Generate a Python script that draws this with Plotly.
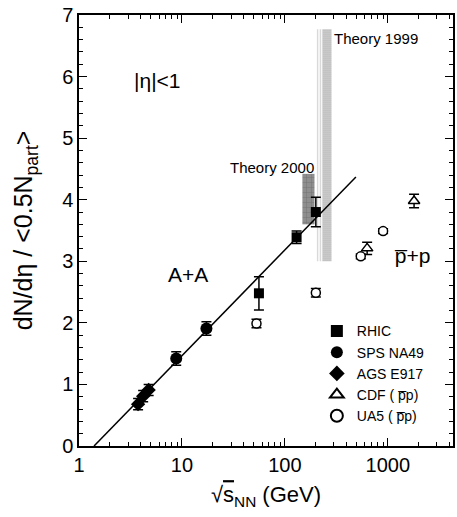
import math
import plotly.graph_objects as go

# ---- data ----
rhic_x = [56, 130, 200]
rhic_y = [2.48, 3.39, 3.80]
rhic_e = [0.27, 0.10, 0.24]

na49_x = [8.8, 17.3]
na49_y = [1.42, 1.91]
na49_e = [0.11, 0.11]

e917_x = [3.75, 4.2, 4.75]
e917_y = [0.68, 0.81, 0.91]
e917_e = [0.09, 0.09, 0.09]

cdf_x = [630, 1800]
cdf_y = [3.21, 3.98]
cdf_e = [0.10, 0.11]

ua5_x = [53, 200, 546, 900]
ua5_y = [1.99, 2.49, 3.08, 3.49]
ua5_e = [0.07, 0.07, 0.04, 0.04]

fit_x = [1.4, 490]
fit_y = [0.0, 4.37]

theory2000_x = [148, 194]
theory2000_y = [3.60, 4.42]
theory1999a_x = [203, 232]
theory1999b_x = [232, 284]
theory1999_y = [3.00, 6.77]

x_ticks = [1, 10, 100, 1000]
x_ticklabels = ["1", "10", "100", "1000"]
x_minor = [m * 10 ** d for d in range(4) for m in range(2, 10)]

FONT = "Arial, Liberation Sans, Helvetica, sans-serif"

fig = go.Figure()

def band(xs, ys, fill, pat):
    fig.add_trace(go.Scatter(
        x=[xs[0], xs[1], xs[1], xs[0], xs[0]],
        y=[ys[0], ys[0], ys[1], ys[1], ys[0]],
        mode="lines", fill="toself", fillcolor=fill,
        fillpattern=pat, line=dict(width=0), hoverinfo="skip",
        showlegend=False))

band(theory1999a_x, theory1999_y, "white",
     dict(shape="|", fgcolor="#9a9a9a", bgcolor="white", size=2.5, solidity=0.45))
band(theory1999b_x, theory1999_y, "#cfcfcf",
     dict(shape=".", fgcolor="#8f8f8f", bgcolor="#d8d8d8", size=2, solidity=0.6))
band(theory2000_x, theory2000_y, "#8c8c8c",
     dict(shape="+", fgcolor="#4a4a4a", bgcolor="#8e8e8e", size=5, solidity=0.15))

fig.add_trace(go.Scatter(x=fit_x, y=fit_y, mode="lines",
                         line=dict(color="black", width=1.5),
                         showlegend=False, hoverinfo="skip"))

def pts(name, xs, ys, es, symbol, size, open_=False):
    fig.add_trace(go.Scatter(
        x=xs, y=ys, mode="markers", name=name,
        marker=dict(symbol=symbol, size=size,
                    color="white" if open_ else "black",
                    line=dict(color="black", width=1.5 if open_ else 0)),
        error_y=dict(type="data", array=es, color="black",
                     thickness=1.5, width=5)))

pts("RHIC", rhic_x, rhic_y, rhic_e, "square", 10)
pts("SPS NA49", na49_x, na49_y, na49_e, "circle", 12)
pts("AGS E917", e917_x, e917_y, e917_e, "diamond", 11)
pts("CDF ( p\u0305p)", cdf_x, cdf_y, cdf_e, "triangle-up", 10, True)
pts("UA5 ( p\u0305p)", ua5_x, ua5_y, ua5_e, "circle", 9, True)

def ann(text, x, y, size, xanchor="left"):
    fig.add_annotation(text=text, x=math.log10(x), y=y, xref="x", yref="y",
                       showarrow=False, xanchor=xanchor, yanchor="middle",
                       font=dict(size=size, family=FONT, color="black"))

ann("Theory 1999", 290, 6.62, 15)
ann("Theory 2000", 202, 4.52, 15, "right")
ann("|\u03b7|<1", 3.3, 5.94, 21)
ann("A+A", 7.0, 2.78, 21)
ann("p\u0305+p", 1100, 3.1, 21)

axis_common = dict(showline=True, linecolor="black", linewidth=1.5,
                   mirror="allticks", ticks="inside", ticklen=8,
                   tickwidth=1.2, tickcolor="black", showgrid=False,
                   zeroline=False,
                   tickfont=dict(size=20, family=FONT, color="black"))

fig.update_xaxes(type="log", range=[0, math.log10(4300)],
                 tickvals=x_ticks, ticktext=x_ticklabels,
                 minor=dict(ticks="inside", ticklen=4, tickcolor="black",
                            tickwidth=1, showgrid=False, tickvals=x_minor),
                 title=dict(text="\u221a<span style='text-decoration:overline'>s</span><sub>NN</sub> (GeV)",
                            font=dict(size=22, family=FONT, color="black"),
                            standoff=12),
                 **axis_common)
fig.update_yaxes(range=[0, 7], dtick=1,
                 minor=dict(ticks="inside", ticklen=4, dtick=0.2,
                            tickcolor="black", tickwidth=1, showgrid=False),
                 title=dict(text="dN/d\u03b7 / <0.5N<sub>part</sub>>",
                            font=dict(size=25, family=FONT, color="black"),
                            standoff=22),
                 **axis_common)

fig.update_layout(
    width=457, height=517,
    margin=dict(l=79, r=2, t=15, b=71),
    paper_bgcolor="white", plot_bgcolor="white",
    font=dict(family=FONT, color="black"),
    legend=dict(x=0.636, y=0.303, xanchor="left", yanchor="top",
                bgcolor="rgba(0,0,0,0)", font=dict(size=14, family=FONT),
                tracegroupgap=0, itemsizing="constant"),
)

fig.write_html("out.html")
